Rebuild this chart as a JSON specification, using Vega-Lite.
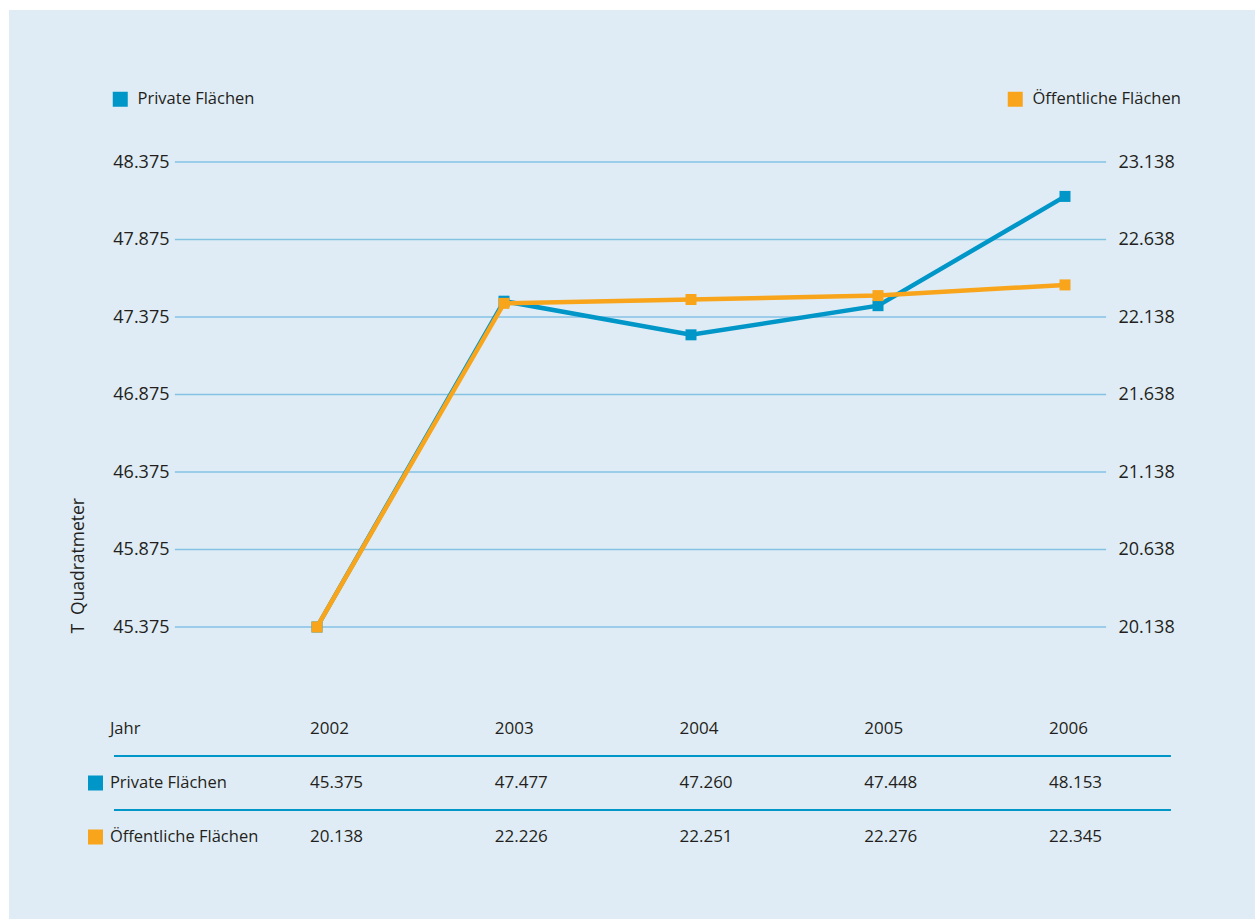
{
  "$schema": "https://vega.github.io/schema/vega-lite/v6.json",
  "width": 1246,
  "height": 909,
  "autosize": {"type": "none"},
  "padding": {"left": 9, "top": 10, "right": 0, "bottom": 0},
  "background": "#ffffff",
  "config": {
    "font": "Open Sans",
    "view": {"fill": "#e0ecf5", "stroke": null},
    "text": {"color": "#231f20", "font": "Open Sans", "fontWeight": 500},
    "legend": {
      "labelFont": "Open Sans",
      "labelFontSize": 16.5,
      "labelFontWeight": 500,
      "labelColor": "#231f20",
      "symbolType": "square",
      "symbolSize": 225,
      "symbolStrokeWidth": 0,
      "symbolOpacity": 1,
      "labelOffset": 9,
      "padding": 0
    }
  },
  "datasets": {
    "flaechen": [
      {"Jahr": 2002, "Private Flächen": 45.375, "Öffentliche Flächen": 20.138},
      {"Jahr": 2003, "Private Flächen": 47.477, "Öffentliche Flächen": 22.226},
      {"Jahr": 2004, "Private Flächen": 47.260, "Öffentliche Flächen": 22.251},
      {"Jahr": 2005, "Private Flächen": 47.448, "Öffentliche Flächen": 22.276},
      {"Jahr": 2006, "Private Flächen": 48.153, "Öffentliche Flächen": 22.345}
    ],
    "skala": [
      {"Private Flächen": 45.375},
      {"Private Flächen": 45.875},
      {"Private Flächen": 46.375},
      {"Private Flächen": 46.875},
      {"Private Flächen": 47.375},
      {"Private Flächen": 47.875},
      {"Private Flächen": 48.375}
    ],
    "zeilen": [
      {"Zeile": "Jahr"},
      {"Zeile": "Private Flächen"},
      {"Zeile": "Öffentliche Flächen"}
    ]
  },
  "layer": [
    {
      "layer": [
        {
          "data": {"name": "skala"},
          "mark": {"type": "rule", "color": "#84c2e4", "strokeWidth": 1.6},
          "encoding": {
            "x": {"datum": 2001.24, "type": "quantitative", "scale": {"type": "linear", "domain": [2002, 2006], "range": [308, 1056], "nice": false, "zero": false}, "axis": null},
            "x2": {"datum": 2006.22},
            "y": {
              "field": "Private Flächen", "type": "quantitative",
              "scale": {"type": "linear", "domain": [45.375, 48.375], "range": [617, 152], "nice": false, "zero": false},
              "axis": {
                "orient": "left", "offset": -166,
                "values": [45.375, 45.875, 46.375, 46.875, 47.375, 47.875, 48.375],
                "format": ".3f", "domain": false, "ticks": false, "grid": false,
                "labelPadding": 6, "labelAlign": "right", "labelBaseline": "middle",
                "labelFontSize": 18, "labelFontWeight": 500, "labelColor": "#231f20", "labelFont": "Open Sans",
                "title": "T\u2002Quadratmeter", "titleX": -92, "titleY": 623, "titleAngle": -90,
                "titleAlign": "left", "titleBaseline": "alphabetic", "titleFontSize": 17.5,
                "titleFontWeight": 500, "titleColor": "#231f20", "titleFont": "Open Sans"
              }
            }
          }
        },
        {
          "data": {"name": "flaechen"},
          "mark": {"type": "line", "color": "#0096c8", "strokeWidth": 4.5},
          "encoding": {
            "x": {"field": "Jahr", "type": "quantitative"},
            "y": {"field": "Private Flächen", "type": "quantitative"}
          }
        },
        {
          "data": {"name": "flaechen"},
          "mark": {"type": "point", "shape": "square", "filled": true, "size": 121, "opacity": 1},
          "encoding": {
            "x": {"field": "Jahr", "type": "quantitative"},
            "y": {"field": "Private Flächen", "type": "quantitative"},
            "color": {
              "datum": "Private Flächen",
              "scale": {"range": ["#0096c8"]},
              "legend": {"orient": "none", "legendX": 103, "legendY": 81, "title": null}
            }
          }
        }
      ]
    },
    {
      "layer": [
        {
          "data": {"name": "flaechen"},
          "mark": {"type": "line", "color": "#f8a51b", "strokeWidth": 4.5},
          "encoding": {
            "x": {"field": "Jahr", "type": "quantitative", "scale": {"type": "linear", "domain": [2002, 2006], "range": [308, 1056], "nice": false, "zero": false}, "axis": null},
            "y": {
              "field": "Öffentliche Flächen", "type": "quantitative",
              "scale": {"type": "linear", "domain": [20.138, 23.138], "range": [617, 152], "nice": false, "zero": false},
              "axis": {
                "orient": "right", "offset": -149,
                "values": [20.138, 20.638, 21.138, 21.638, 22.138, 22.638, 23.138],
                "format": ".3f", "domain": false, "ticks": false, "grid": false,
                "labelPadding": 12, "labelAlign": "left", "labelBaseline": "middle",
                "labelFontSize": 18, "labelFontWeight": 500, "labelColor": "#231f20", "labelFont": "Open Sans",
                "title": null
              }
            }
          }
        },
        {
          "data": {"name": "flaechen"},
          "mark": {"type": "point", "shape": "square", "filled": true, "size": 121, "opacity": 1},
          "encoding": {
            "x": {"field": "Jahr", "type": "quantitative"},
            "y": {"field": "Öffentliche Flächen", "type": "quantitative"},
            "color": {
              "datum": "Öffentliche Flächen",
              "scale": {"range": ["#f8a51b"]},
              "legend": {"orient": "none", "legendX": 998, "legendY": 81, "title": null}
            }
          }
        }
      ]
    },
    {
      "layer": [
        {
          "data": {"name": "zeilen"},
          "transform": [{"filter": "datum.Zeile !== 'Jahr'"}],
          "mark": {"type": "rule", "color": "#0096c8", "strokeWidth": 2.2},
          "encoding": {
            "x": {"datum": 2000.939, "type": "quantitative", "scale": {"type": "linear", "domain": [2002, 2006], "range": [301, 1040], "nice": false, "zero": false}, "axis": null},
            "x2": {"datum": 2006.66},
            "y": {
              "field": "Zeile", "type": "nominal", "bandPosition": 0,
              "scale": {"type": "band", "domain": ["Jahr", "Private Flächen", "Öffentliche Flächen"], "range": [692, 854], "paddingInner": 0, "paddingOuter": 0},
              "axis": null
            }
          }
        },
        {
          "data": {"name": "zeilen"},
          "transform": [{"filter": "datum.Zeile !== 'Jahr'"}],
          "mark": {"type": "point", "shape": "square", "filled": true, "size": 225, "opacity": 1},
          "encoding": {
            "x": {"datum": 2000.839, "type": "quantitative"},
            "y": {"field": "Zeile", "type": "nominal"},
            "color": {
              "field": "Zeile", "type": "nominal",
              "scale": {"domain": ["Private Flächen", "Öffentliche Flächen"], "range": ["#0096c8", "#f8a51b"]},
              "legend": null
            }
          }
        },
        {
          "data": {"name": "zeilen"},
          "mark": {"type": "text", "align": "left", "baseline": "middle", "fontSize": 16.5},
          "encoding": {
            "x": {"datum": 2000.917, "type": "quantitative"},
            "y": {"field": "Zeile", "type": "nominal"},
            "text": {"field": "Zeile", "type": "nominal"}
          }
        },
        {
          "data": {"name": "flaechen"},
          "mark": {"type": "text", "align": "left", "baseline": "middle", "fontSize": 17},
          "encoding": {
            "x": {"field": "Jahr", "type": "quantitative"},
            "y": {"datum": "Jahr", "type": "nominal"},
            "text": {"field": "Jahr", "type": "ordinal"}
          }
        },
        {
          "data": {"name": "flaechen"},
          "transform": [{"fold": ["Private Flächen", "Öffentliche Flächen"], "as": ["Zeile", "Wert"]}],
          "mark": {"type": "text", "align": "left", "baseline": "middle", "fontSize": 17},
          "encoding": {
            "x": {"field": "Jahr", "type": "quantitative"},
            "y": {"field": "Zeile", "type": "nominal"},
            "text": {"field": "Wert", "type": "quantitative", "format": ".3f"}
          }
        }
      ]
    }
  ],
  "resolve": {"scale": {"x": "independent", "y": "independent", "color": "independent"}}
}
